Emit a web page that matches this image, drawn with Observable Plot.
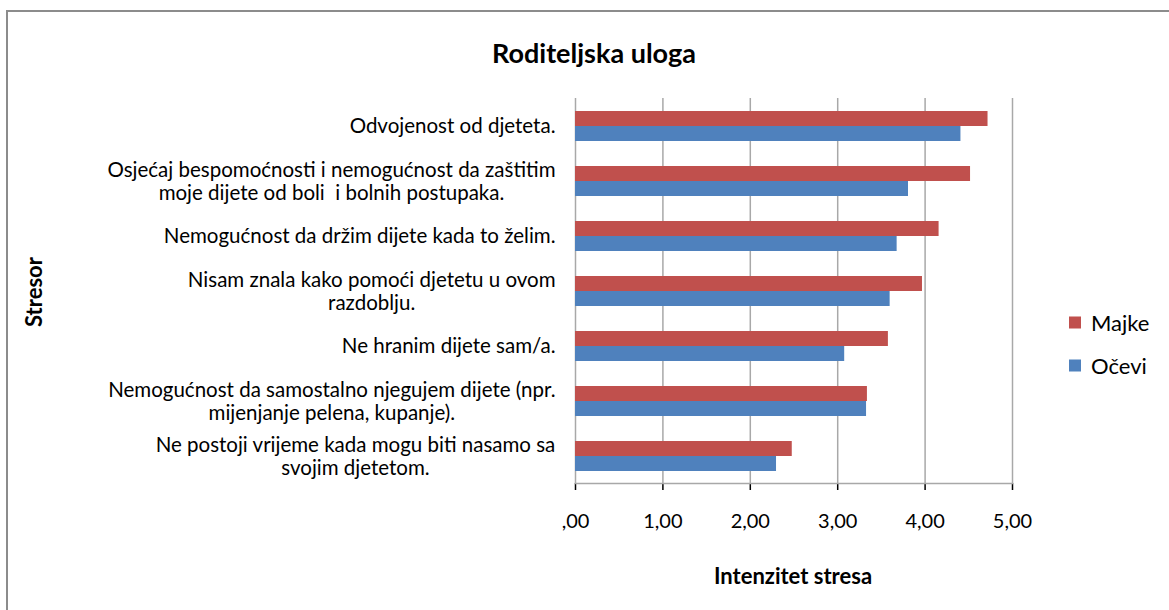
<!DOCTYPE html>
<html><head><meta charset="utf-8">
<script src="https://cdn.jsdelivr.net/npm/d3@7"></script>
<script src="https://cdn.jsdelivr.net/npm/@observablehq/plot@0.6"></script>
<style>
body{margin:0;background:#fff;}
#wrap{position:relative;width:1169px;height:610px;overflow:hidden;font-family:Lato, "Open Sans", sans-serif;color:#000;}
#frame{position:absolute;left:6px;top:10px;width:1200px;height:640px;border:2px solid #8c8c8c;box-sizing:border-box;}
#chart{position:absolute;left:0;top:0;}
.abs{position:absolute;white-space:nowrap;}
#title{left:594px;top:52px;transform:translate(-50%,-50%);font-weight:bold;font-size:27px;}
#xtitle{left:793px;top:575px;transform:translate(-50%,-50%);font-weight:bold;font-size:22px;}
#ytitle{left:33px;top:292px;transform:translate(-50%,-50%) rotate(-90deg);font-weight:bold;font-size:22px;}
.leg{left:1069px;font-size:22px;display:flex;align-items:center;transform:translateY(-50%);}
.sw{width:12px;height:12px;margin-right:10px;display:inline-block;}
</style>
</head><body>
<div id="wrap">
  <div id="frame"></div>
  <div id="chart"></div>
  <div class="abs" id="title"></div>
  <div class="abs" id="xtitle"></div>
  <div class="abs" id="ytitle"></div>
  <div id="legend"></div>
</div>
<script>
const title = "Roditeljska uloga";
const xTitle = "Intenzitet stresa";
const yTitle = "Stresor";
const stressors = [
  "Odvojenost od djeteta.",
  "Osjećaj bespomoćnosti i nemogućnost da zaštitim\nmoje dijete od boli  i bolnih postupaka.",
  "Nemogućnost da držim dijete kada to želim.",
  "Nisam znala kako pomoći djetetu u ovom\nrazdoblju.",
  "Ne hranim dijete sam/a.",
  "Nemogućnost da samostalno njegujem dijete (npr.\nmijenjanje pelena, kupanje).",
  "Ne postoji vrijeme kada mogu biti nasamo sa\nsvojim djetetom."
];
const majke = [4.72, 4.52, 4.16, 3.97, 3.58, 3.34, 2.48];
const ocevi = [4.41, 3.81, 3.68, 3.60, 3.08, 3.33, 2.30];
const series = ["Majke", "Očevi"];
const colors = ["#C0504D", "#4F81BD"];
const xTicks = [0, 1, 2, 3, 4, 5];
const fmt = d => d === 0 ? ",00" : d.toFixed(2).replace(".", ",");

const rows = [];
stressors.forEach((s, i) => {
  rows.push({s, g: series[0], v: majke[i]});
  rows.push({s, g: series[1], v: ocevi[i]});
});

const FONT = "Lato, 'Open Sans', sans-serif";
const LABEL_SIZE = 20.5;
const ctx = document.createElement("canvas").getContext("2d");
ctx.font = `${LABEL_SIZE}px Lato`;
const measure = s => Math.max(...s.split("\n").map(l => ctx.measureText(l).width));

const labelMarks = stressors.map(s => Plot.text([s], {
  fy: d => d, text: d => d, frameAnchor: "left", textAnchor: "middle",
  lineAnchor: "middle", lineHeight: 1.12, fontSize: LABEL_SIZE,
  dx: -(measure(s) / 2 + 20)
}));

const chart = Plot.plot({
  width: 1169, height: 610,
  marginLeft: 575, marginRight: 157, marginTop: 97, marginBottom: 126,
  style: {fontFamily: FONT, fontSize: "20px", color: "#000", background: "transparent", overflow: "visible"},
  x: {domain: [0, 5], ticks: xTicks, tickFormat: fmt, tickSize: 7, tickPadding: 23, label: null},
  fy: {domain: stressors, padding: 0, axis: null, label: null},
  y: {domain: series, paddingInner: 0, paddingOuter: 0.73, axis: null, label: null},
  color: {domain: series, range: colors},
  marks: [
    Plot.gridX(xTicks, {stroke: "#a8a8a8", strokeOpacity: 1, strokeWidth: 1.5}),
    Plot.frame({anchor: "bottom", facetAnchor: "bottom", stroke: "#a8a8a8", strokeWidth: 1.5}),
    Plot.barX(rows, {x: "v", y: "g", fy: "s", fill: "g"}),
    ...labelMarks
  ]
});
chart.querySelectorAll("[aria-label='x-axis tick']").forEach(e => { e.setAttribute("stroke", "#a8a8a8"); e.setAttribute("stroke-width", "1.5"); });
document.getElementById("chart").appendChild(chart);

document.getElementById("title").textContent = title;
document.getElementById("xtitle").textContent = xTitle;
document.getElementById("ytitle").textContent = yTitle;
const leg = document.getElementById("legend");
const legY = [322, 365];
series.forEach((s, i) => {
  const d = document.createElement("div");
  d.className = "abs leg";
  d.style.top = legY[i] + "px";
  d.innerHTML = `<span class="sw" style="background:${colors[i]}"></span><span>${s}</span>`;
  leg.appendChild(d);
});
</script>
</body></html>
